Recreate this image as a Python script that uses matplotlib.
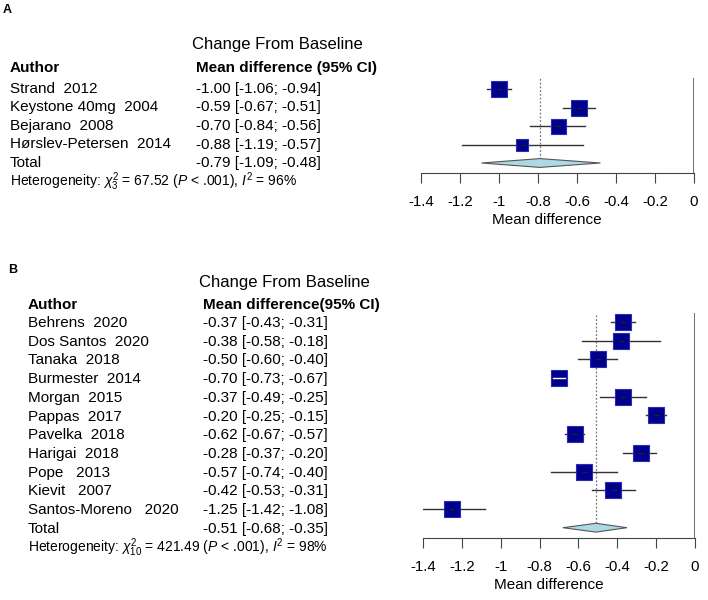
import matplotlib
matplotlib.use("Agg")
import matplotlib.pyplot as plt

plt.rcParams['font.family'] = ['Liberation Sans', 'DejaVu Sans']
plt.rcParams['mathtext.fontset'] = 'custom'
plt.rcParams['mathtext.rm'] = 'Liberation Sans'
plt.rcParams['mathtext.it'] = 'Liberation Sans:italic'
plt.rcParams['mathtext.bf'] = 'Liberation Sans:bold'

# ---- data: panel A
authors_a = ["Strand  2012", "Keystone 40mg  2004", "Bejarano  2008",
             "Hørslev-Petersen  2014"]
md_a = [-1.00, -0.59, -0.70, -0.88]
lo_a = [-1.06, -0.67, -0.84, -1.19]
hi_a = [-0.94, -0.51, -0.56, -0.57]
total_a = [-0.79, -1.09, -0.48]
het_a = r"Heterogeneity: $\chi^2_3$ = 67.52 ($P$ < .001), $I^2$ = 96%"

# ---- data: panel B
authors_b = ["Behrens  2020", "Dos Santos  2020", "Tanaka  2018",
             "Burmester  2014", "Morgan  2015", "Pappas  2017",
             "Pavelka  2018", "Harigai  2018", "Pope   2013",
             "Kievit   2007", "Santos-Moreno   2020"]
md_b = [-0.37, -0.38, -0.50, -0.70, -0.37, -0.20, -0.62, -0.28, -0.57,
        -0.42, -1.25]
lo_b = [-0.43, -0.58, -0.60, -0.73, -0.49, -0.25, -0.67, -0.37, -0.74,
        -0.53, -1.42]
hi_b = [-0.31, -0.18, -0.40, -0.67, -0.25, -0.15, -0.57, -0.20, -0.40,
        -0.31, -1.08]
total_b = [-0.51, -0.68, -0.35]
het_b = r"Heterogeneity: $\chi^2_{10}$ = 421.49 ($P$ < .001), $I^2$ = 98%"

xticks = [-1.4, -1.2, -1, -0.8, -0.6, -0.4, -0.2, 0]
xtick_labels = ["-1.4", "-1.2", "-1", "-0.8", "-0.6", "-0.4", "-0.2", "0"]

# square side in pixels (study weight)
sq_a = [15.5, 15.5, 15, 11.7]
sq_b = [15.3] * 11

W, H = 708, 600
fig = plt.figure(figsize=(W / 100, H / 100), dpi=100)


def fx(x):
    return x / W


def fy(y):
    return 1 - y / H


def ci_text(m, lo, hi):
    return f"{m:.2f} [{lo:.2f}; {hi:.2f}]"


def forest(left, right, top, bottom, row0, step, md, lo, hi, total, sizes):
    ax = fig.add_axes([fx(left), fy(bottom), fx(right - left), fy(top) - fy(bottom)])
    n = len(md)
    ax.set_xlim(-1.4, 0)
    ax.set_ylim(-(bottom - row0) / step, -(top - row0) / step)
    px_per_unit = (right - left) / 1.4
    for k in range(n):
        y = -k
        side = sizes[k]
        ax.plot(md[k], y, marker='s', markersize=side * 0.72,
                markerfacecolor='#00008b', markeredgecolor='#2a2ab8',
                markeredgewidth=0.8, zorder=3)
        inside = (hi[k] - lo[k]) * px_per_unit < side
        ax.plot([lo[k], hi[k]], [y, y], color='white' if inside else '#333333',
                lw=1.0, zorder=4 if inside else 2)
        if not inside:
            ax.plot([md[k] - 0.15 * side / px_per_unit,
                     md[k] + 0.15 * side / px_per_unit], [y, y],
                    color='#222222', lw=0.8, zorder=4)
    yt = -n
    h = 4.4 / step
    ax.fill([total[1], total[0], total[2], total[0]], [yt, yt + h, yt, yt - h],
            facecolor='#add8e6', edgecolor='#555555', lw=0.8, zorder=3)
    ax.plot([total[0], total[0]], [yt + h, ax.get_ylim()[1]], color='#777777',
            lw=0.9, linestyle=(0, (1.5, 1.5)), zorder=1)
    ax.axvline(0, color='#555555', lw=1.2)
    for s in ['top', 'right', 'left']:
        ax.spines[s].set_visible(False)
    ax.spines['bottom'].set_color('#444444')
    ax.spines['bottom'].set_bounds(-1.4, 0)
    ax.set_yticks([])
    ax.set_xticks(xticks)
    ax.set_xticklabels(xtick_labels, fontsize=10.8)
    ax.tick_params(axis='x', length=7, color='#444444', pad=9)
    ax.patch.set_alpha(0)
    return ax


def table(x_auth, x_md, y_title, y_head, row0, step, authors, md, lo, hi,
          total, het, header):
    fig.text(fx(x_md - 4), fy(y_title), "Change From Baseline", fontsize=12,
             va='center')
    fig.text(fx(x_auth), fy(y_head), "Author", fontsize=11,
             fontweight='bold', va='center')
    fig.text(fx(x_md), fy(y_head), header, fontsize=11, fontweight='bold',
             va='center')
    for k, name in enumerate(authors):
        y = row0 + step * k
        fig.text(fx(x_auth), fy(y), name, fontsize=11, va='center')
        fig.text(fx(x_md), fy(y), ci_text(md[k], lo[k], hi[k]), fontsize=11,
                 va='center')
    y = row0 + step * len(authors)
    fig.text(fx(x_auth), fy(y), "Total", fontsize=11, va='center')
    fig.text(fx(x_md), fy(y), ci_text(*total), fontsize=11, va='center')
    fig.text(fx(x_auth), fy(y + step), het, fontsize=10, va='center')


# panel A
fig.text(fx(3), fy(10), "A", fontsize=9, fontweight='bold', va='center')
table(10, 196, 45, 68, 89, 18.5, authors_a, md_a, lo_a, hi_a, total_a, het_a,
      "Mean difference (95% CI)")
forest(421, 694, 78, 173, 89, 18.5, md_a, lo_a, hi_a, total_a, sq_a)
fig.text(fx(547), fy(220), "Mean difference", fontsize=11, ha='center',
         va='center')

# panel B
fig.text(fx(8), fy(270), "B", fontsize=9, fontweight='bold', va='center')
table(28, 203, 283, 305, 323, 18.7, authors_b, md_b, lo_b, hi_b, total_b,
      het_b, "Mean difference(95% CI)")
forest(423, 695, 313, 538, 322, 18.7, md_b, lo_b, hi_b, total_b, sq_b)
fig.text(fx(549), fy(585), "Mean difference", fontsize=11, ha='center',
         va='center')

fig.savefig("out.png", dpi=100)
